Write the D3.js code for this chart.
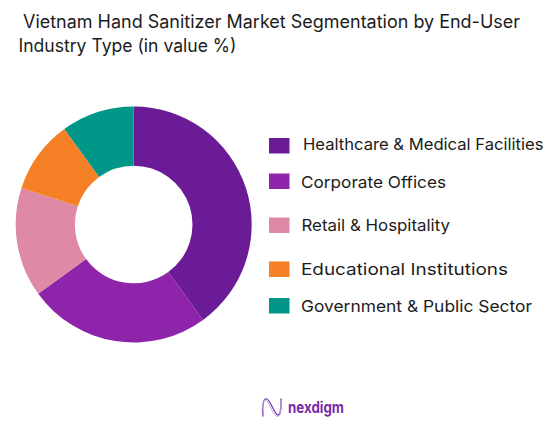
<!DOCTYPE html>
<html>
<head>
<meta charset="utf-8">
<script src="https://cdn.jsdelivr.net/npm/d3@7"></script>
<style>
    html, body { margin: 0; background: #fff; }
    svg { display: block; }
    text { font-family: Inter, "Open Sans", sans-serif; fill: #1c1c1c; }
</style>
</head>
<body>
<div id="chart"></div>
<script>
const categories = ["Healthcare & Medical Facilities", "Corporate Offices", "Retail & Hospitality", "Educational Institutions", "Government & Public Sector"];
const shares = [40, 25, 15, 10, 10];
const colors = ["#6a1b95", "#8e24aa", "#de8aa6", "#f58025", "#009688"];
const titleLines = ["Vietnam Hand Sanitizer Market Segmentation by End-User", "Industry Type (in value %)"];

var width = 548,
    height = 423,
    cx = 133.7,
    cy = 224.5,
    outer = 118,
    inner = 58.8;

// legend rows are not evenly spaced in the original
const legendRows = [145.5, 181, 225, 269, 305.5];
const legendBase = [149.5, 187.5, 231, 275, 311.5];
const legendTextX = [303, 301, 301.5, 301, 301];
const legendWidths = [240.5, 145, 148.5, 207, 231];

var svg = d3.select("#chart")
    .append("svg")
    .attr("width", width)
    .attr("height", height);

svg.append("g")
    .selectAll("text")
    .data(titleLines)
    .enter()
    .append("text")
    .attr("x", (d, i) => i == 0 ? 23 : 18.5)
    .attr("y", (d, i) => i == 0 ? 27.5 : 52)
    .attr("font-size", 18)
    .attr("textLength", (d, i) => i == 0 ? 497 : 218)
    .attr("lengthAdjust", "spacingAndGlyphs")
    .text(d => d);

var pie = d3.pie().sort(null);
var arc = d3.arc().innerRadius(inner).outerRadius(outer);

svg.append("g")
    .attr("transform", "translate(" + cx + "," + cy + ")")
    .selectAll("path")
    .data(pie(shares))
    .enter()
    .append("path")
    .attr("d", arc)
    .attr("fill", (d, i) => colors[i]);

var legend = svg.append("g")
    .selectAll("g")
    .data(categories)
    .enter()
    .append("g");

legend.append("rect")
    .attr("x", 269)
    .attr("y", (d, i) => legendRows[i] - 7.5)
    .attr("width", 20.5)
    .attr("height", 15.5)
    .attr("fill", (d, i) => colors[i]);

legend.append("text")
    .attr("x", (d, i) => legendTextX[i])
    .attr("y", (d, i) => legendBase[i])
    .attr("font-size", 16.5)
    .attr("textLength", (d, i) => legendWidths[i])
    .attr("lengthAdjust", "spacingAndGlyphs")
    .text(d => d);

// logo
var logo = svg.append("g").attr("fill", "none").attr("stroke-linecap", "round");
logo.append("path")
    .attr("d", "M263 416C262 402 264 398 267 399C271 401 274 414 278 415C281 415 281 408 281 399")
    .attr("stroke", "#7b3fb5")
    .attr("stroke-width", 1.3);
logo.append("path")
    .attr("d", "M262 410C263 398 266 398 269 404C273 413 276 418 279 416C281 414 281 406 281 401")
    .attr("stroke", "#c9a6e4")
    .attr("stroke-width", 1);

svg.append("text")
    .attr("x", 288)
    .attr("y", 413)
    .attr("font-size", 15.5)
    .attr("font-weight", 700)
    .attr("textLength", 56)
    .attr("lengthAdjust", "spacingAndGlyphs")
    .style("fill", "#7a2aa8")
    .text("nexdigm");
</script>
</body>
</html>
